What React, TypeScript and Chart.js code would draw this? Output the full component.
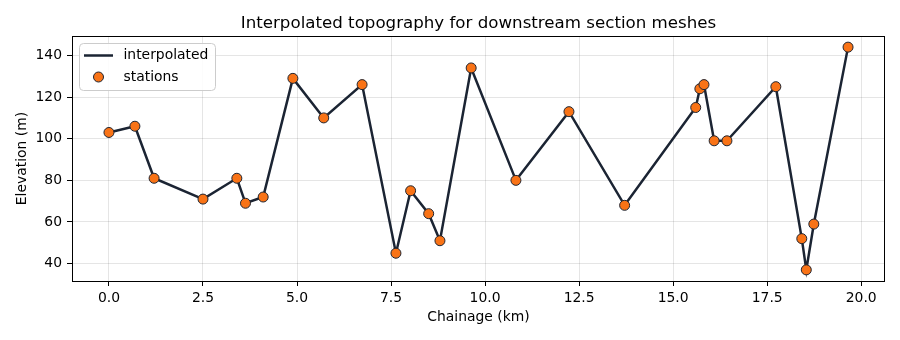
import React, { useEffect, useRef } from "react";
import { Chart, registerables } from "chart.js";

Chart.register(...registerables);

// Survey stations along the reach: chainage (km) and bed elevation (m)
const chainageKm = [
  0, 0.69, 1.2, 2.5, 3.4, 3.63, 4.1, 4.89, 5.71, 6.73, 7.63, 8.02, 8.5, 8.8,
  9.63, 10.82, 12.23, 13.71, 15.6, 15.71, 15.82, 16.09, 16.43, 17.73, 18.42,
  18.54, 18.74, 19.65,
];
const elevationM = [
  103, 106, 81, 71, 81, 69, 72, 129, 110, 126, 45, 75, 64, 51, 134, 80, 113,
  68, 115, 124, 126, 99, 99, 125, 52, 37, 59, 144,
];

const xTicks = [0, 2.5, 5, 7.5, 10, 12.5, 15, 17.5, 20];
const yTicks = [40, 60, 80, 100, 120, 140];

const titleText = "Interpolated topography for downstream section meshes";
const xLabel = "Chainage (km)";
const yLabel = "Elevation (m)";
const seriesNames = ["interpolated", "stations"];

const FONT = '"DejaVu Sans", sans-serif';
const LINE_COLOR = "#1b2433";
const MARKER_COLOR = "#f97316";
const MARKER_EDGE = "#1f2430";

const xPad = (Math.max(...chainageKm) - Math.min(...chainageKm)) * 0.05;
const yPad = (Math.max(...elevationM) - Math.min(...elevationM)) * 0.05;

const frameTitleLegend = {
  id: "frameTitleLegend",
  afterDraw(chart: any) {
    const { ctx, chartArea } = chart;
    const { left, top, right, bottom } = chartArea;
    ctx.save();

    // axes frame
    ctx.strokeStyle = "#000";
    ctx.lineWidth = 1;
    ctx.strokeRect(
      Math.round(left) + 0.5,
      Math.round(top) + 0.5,
      Math.round(right - left) - 1,
      Math.round(bottom - top)
    );

    // title
    ctx.fillStyle = "#000";
    ctx.font = `16.67px ${FONT}`;
    ctx.textAlign = "center";
    ctx.textBaseline = "alphabetic";
    ctx.fillText(titleText, (left + right) / 2, 28);

    // legend box
    const bx = left + 7.5;
    const by = top + 7.5;
    const bw = 136;
    const bh = 47;
    const r = 4;
    ctx.beginPath();
    ctx.moveTo(bx + r, by);
    ctx.arcTo(bx + bw, by, bx + bw, by + bh, r);
    ctx.arcTo(bx + bw, by + bh, bx, by + bh, r);
    ctx.arcTo(bx, by + bh, bx, by, r);
    ctx.arcTo(bx, by, bx + bw, by, r);
    ctx.closePath();
    ctx.fillStyle = "rgba(255,255,255,0.85)";
    ctx.fill();
    ctx.strokeStyle = "#cccccc";
    ctx.lineWidth = 1;
    ctx.stroke();

    const row1 = by + 12;
    const row2 = by + 33.5;
    ctx.strokeStyle = LINE_COLOR;
    ctx.lineWidth = 2.5;
    ctx.beginPath();
    ctx.moveTo(bx + 4.5, row1);
    ctx.lineTo(bx + 33.5, row1);
    ctx.stroke();

    ctx.beginPath();
    ctx.arc(bx + 19, row2, 5, 0, Math.PI * 2);
    ctx.fillStyle = MARKER_COLOR;
    ctx.fill();
    ctx.strokeStyle = MARKER_EDGE;
    ctx.lineWidth = 1;
    ctx.stroke();

    ctx.fillStyle = "#000";
    ctx.font = `13.9px ${FONT}`;
    ctx.textAlign = "left";
    ctx.textBaseline = "middle";
    ctx.fillText(seriesNames[0], bx + 44, row1);
    ctx.fillText(seriesNames[1], bx + 44, row2);

    ctx.restore();
  },
};

export default function App() {
  const canvasRef = useRef<HTMLCanvasElement | null>(null);

  useEffect(() => {
    const canvas = canvasRef.current;
    if (!canvas) return;
    const points = chainageKm.map((x, i) => ({ x, y: elevationM[i] }));

    const chart = new Chart(canvas, {
      type: "scatter",
      data: {
        datasets: [
          {
            label: seriesNames[1],
            data: points,
            showLine: false,
            pointRadius: 5,
            pointHoverRadius: 5,
            pointBackgroundColor: MARKER_COLOR,
            pointBorderColor: MARKER_EDGE,
            pointBorderWidth: 1,
            order: 0,
          },
          {
            label: seriesNames[0],
            data: points,
            showLine: true,
            tension: 0,
            borderColor: LINE_COLOR,
            borderWidth: 2.5,
            pointRadius: 0,
            order: 1,
          },
        ],
      },
      options: {
        responsive: false,
        animation: false,
        devicePixelRatio: 1,
        layout: { padding: { left: 0, top: 36, right: 15, bottom: 0 } },
        plugins: {
          legend: { display: false },
          title: { display: false },
          tooltip: { enabled: false },
        },
        scales: {
          x: {
            type: "linear",
            min: Math.min(...chainageKm) - xPad,
            max: Math.max(...chainageKm) + xPad,
            afterBuildTicks: (scale: any) => {
              scale.ticks = xTicks.map((v) => ({ value: v }));
            },
            afterFit: (scale: any) => {
              scale.height = 59;
            },
            grid: {
              color: "rgba(0,0,0,0.1)",
              lineWidth: 1,
              drawTicks: true,
              tickLength: 5,
              tickColor: "#000",
              tickWidth: 1,
            },
            border: { display: false },
            ticks: {
              color: "#000",
              padding: 4,
              maxRotation: 0,
              autoSkip: false,
              font: { family: FONT, size: 13.9 },
              callback: (v: any) => Number(v).toFixed(1),
            },
            title: {
              display: true,
              text: xLabel,
              color: "#000",
              font: { family: FONT, size: 13.9 },
              padding: { top: 0, bottom: 14 },
            },
          },
          y: {
            type: "linear",
            min: Math.min(...elevationM) - yPad,
            max: Math.max(...elevationM) + yPad,
            afterBuildTicks: (scale: any) => {
              scale.ticks = yTicks.map((v) => ({ value: v }));
            },
            afterFit: (scale: any) => {
              scale.width = 72;
            },
            grid: {
              color: "rgba(0,0,0,0.1)",
              lineWidth: 1,
              drawTicks: true,
              tickLength: 5,
              tickColor: "#000",
              tickWidth: 1,
            },
            border: { display: false },
            ticks: {
              color: "#000",
              padding: 5,
              autoSkip: false,
              font: { family: FONT, size: 13.9 },
              callback: (v: any) => String(v),
            },
            title: {
              display: true,
              text: yLabel,
              color: "#000",
              font: { family: FONT, size: 13.9 },
              padding: { top: 14, bottom: 0 },
            },
          },
        },
      },
      plugins: [frameTitleLegend],
    });

    return () => chart.destroy();
  }, []);

  return (
    <div style={{ position: "absolute", left: 0, top: 0, width: 900, height: 340, background: "#fff" }}>
      <canvas ref={canvasRef} width={900} height={340} style={{ width: 900, height: 340, display: "block" }} />
    </div>
  );
}
